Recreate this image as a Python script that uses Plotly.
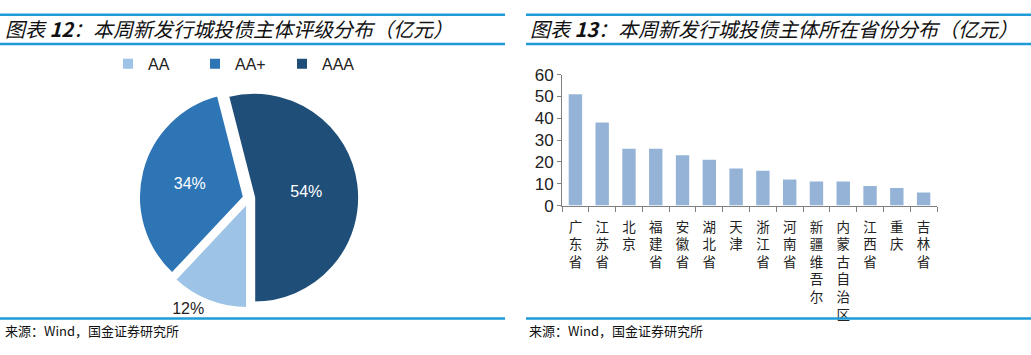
import plotly.graph_objects as go

W, H = 1031, 355

# ---- data ----
rating_labels = ["AA", "AA+", "AAA"]
rating_share = [12, 34, 54]
rating_colors = ["#9DC3E6", "#2E75B6", "#1F4E79"]

provinces = ["广东省", "江苏省", "北京", "福建省", "安徽省", "湖北省", "天津",
             "浙江省", "河南省", "新疆维吾尔", "内蒙古自治区", "江西省", "重庆", "吉林省"]
amounts = [51, 38, 26, 26, 23, 21, 17, 16, 12, 11, 11, 9, 8, 6]
y_ticks = [0, 10, 20, 30, 40, 50, 60]

title_left = "图表 <b>12</b>：本周新发行城投债主体评级分布（亿元）"
title_right = "图表 <b>13</b>：本周新发行城投债主体所在省份分布（亿元）"
source_text = "来源：Wind，国金证券研究所"

def px(x):
    return x / W

def py(y):
    return (H - y) / H

CJK = "Noto Sans CJK SC"
LAT = "Liberation Sans, Arial"
LINE = "#1F9BD7"

fig = go.Figure()

# pie
cx, cy, r, pull = 249, 200, 108, 0.05
half = r * (1 + pull) + 3
fig.add_trace(go.Pie(
    labels=rating_labels, values=rating_share, sort=False,
    direction="clockwise", rotation=180,
    pull=[pull] * 3,
    marker=dict(colors=rating_colors, line=dict(color="white", width=2)),
    textinfo="percent",
    textposition=["outside", "inside", "inside"],
    insidetextorientation="horizontal",
    textfont=dict(family=LAT, size=16),
    insidetextfont=dict(family=LAT, size=16, color="white"),
    outsidetextfont=dict(family=LAT, size=16, color="#222222"),
    domain=dict(x=[px(cx - half), px(cx + half)], y=[py(cy + half), py(cy - half)]),
    showlegend=True,
    hoverinfo="label+percent",
))

# bars
fig.add_trace(go.Bar(
    x=["<br>".join(list(p)) for p in provinces], y=amounts,
    marker=dict(color="#95B3D7", line=dict(width=0)),
    xaxis="x", yaxis="y", showlegend=False,
))

fig.update_layout(
    width=W, height=H,
    margin=dict(l=0, r=0, t=0, b=0),
    paper_bgcolor="white", plot_bgcolor="white",
    bargap=0.5,
    legend=dict(orientation="h", x=px(108), y=py(40), xanchor="left", yanchor="top",
                font=dict(family=LAT, size=16, color="#222222"),
                entrywidth=42, itemsizing="constant"),
    xaxis=dict(domain=[px(562), px(937)], range=[-0.5, 13.5],
               showline=True, linecolor="#808080", linewidth=1,
               ticks="outside", tickson="boundaries", ticklen=5, tickcolor="#808080",
               tickfont=dict(family=CJK, size=13.5, color="#222222"),
               ticklabelstandoff=9,
               showgrid=False, fixedrange=True),
    yaxis=dict(domain=[py(207.7), py(69.3)], range=[0, 60], tickvals=y_ticks,
               showline=True, linecolor="#808080", linewidth=1,
               ticks="outside", ticklen=4, tickcolor="#808080",
               tickfont=dict(family=LAT, size=17, color="#222222"),
               showgrid=False, zeroline=False, fixedrange=True),
)

shapes = []
for (x0, x1) in [(0, 505), (526, 1031)]:
    for y in (6, 37, 327):
        shapes.append(dict(type="line", xref="paper", yref="paper",
                           x0=px(x0), x1=px(x1), y0=py(y), y1=py(y),
                           line=dict(color=LINE, width=2.5)))
fig.update_layout(shapes=shapes)

annotations = [
    dict(text=title_left, x=px(3), y=py(21), xanchor="left", yanchor="middle"),
    dict(text=title_right, x=px(528), y=py(21), xanchor="left", yanchor="middle"),
]
for a in annotations:
    a.update(xref="paper", yref="paper", showarrow=False,
             font=dict(family=CJK, size=20, color="#111111", style="italic"))
for x0 in (3, 527):
    annotations.append(dict(text=source_text, x=px(x0), y=py(340), xref="paper", yref="paper",
                            xanchor="left", yanchor="middle", showarrow=False,
                            font=dict(family=CJK, size=13, color="#111111")))
fig.update_layout(annotations=annotations)

fig.write_html("out.html")
